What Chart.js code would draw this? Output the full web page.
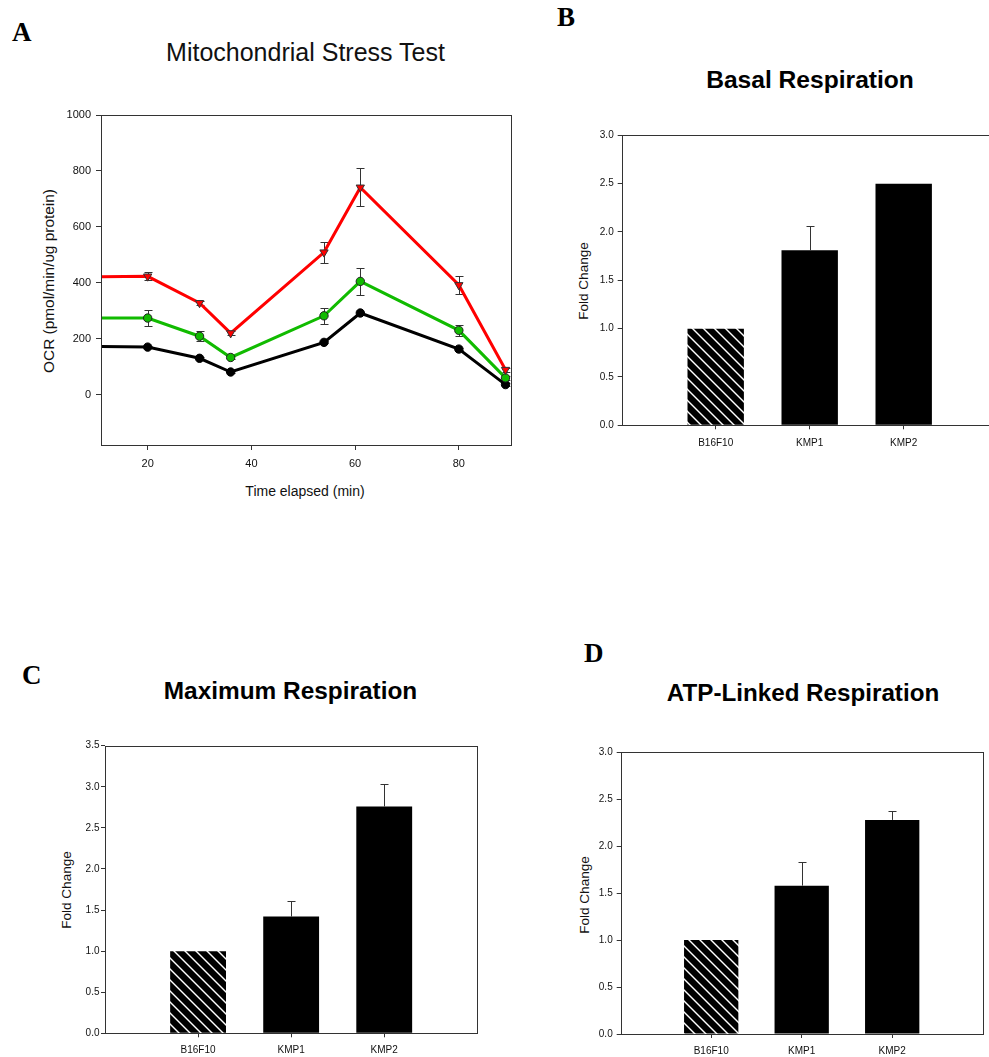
<!DOCTYPE html>
<html>
<head>
<meta charset="utf-8">
<script src="https://cdn.jsdelivr.net/npm/chart.js@4.4.1/dist/chart.umd.min.js"></script>
<style>
  html, body { margin: 0; padding: 0; background: #fff; }
  body { width: 989px; height: 1057px; overflow: hidden; position: relative; }
  canvas { position: absolute; }
  .txt { position: absolute; white-space: nowrap; color: #111; font-family: "Liberation Sans", Arial, sans-serif; }
  .letter { font-family: "Liberation Serif", "Times New Roman", serif; font-weight: bold; font-size: 27px; line-height: 27px; color: #000; }
  .ctr { transform: translateX(-50%); }
  .rot { transform: translate(-50%, -50%) rotate(-90deg); }
</style>
</head>
<body>
  <div class="txt letter" style="left:12px; top:19px;">A</div>
  <div class="txt letter" style="left:557px; top:4px;">B</div>
  <div class="txt letter" style="left:22px; top:662px;">C</div>
  <div class="txt letter" style="left:584px; top:640px;">D</div>

  <div class="txt ctr" style="left:305.5px; top:40px; font-size:25px; line-height:25px;">Mitochondrial Stress Test</div>
  <div class="txt ctr" style="left:810px; top:67.5px; font-size:24.6px; line-height:24.6px; font-weight:bold; color:#000;">Basal Respiration</div>
  <div class="txt ctr" style="left:290.5px; top:678.6px; font-size:24.4px; line-height:24.4px; font-weight:bold; color:#000;">Maximum Respiration</div>
  <div class="txt ctr" style="left:803px; top:681.2px; font-size:24.2px; line-height:24.2px; font-weight:bold; color:#000;">ATP-Linked Respiration</div>

  <div class="txt ctr" style="left:305px; top:484px; font-size:14px; line-height:14px;">Time elapsed (min)</div>
  <div class="txt rot" style="left:49px; top:281px; font-size:14px; line-height:14px; transform: translate(-50%, -50%) rotate(-90deg) scaleX(1.1);">OCR (pmol/min/υg protein)</div>
  <div class="txt rot" style="left:583.5px; top:281px; font-size:12px; line-height:12px; transform: translate(-50%, -50%) rotate(-90deg) scaleX(1.13);">Fold Change</div>
  <div class="txt rot" style="left:66.5px; top:890px; font-size:12px; line-height:12px; transform: translate(-50%, -50%) rotate(-90deg) scaleX(1.13);">Fold Change</div>
  <div class="txt rot" style="left:584.5px; top:895px; font-size:12px; line-height:12px; transform: translate(-50%, -50%) rotate(-90deg) scaleX(1.13);">Fold Change</div>

  <canvas id="chartA" width="530" height="420" style="left:0px; top:100px;"></canvas>
  <canvas id="chartB" width="460" height="360" style="left:540px; top:110px;"></canvas>
  <canvas id="chartC" width="460" height="327" style="left:30px; top:730px;"></canvas>
  <canvas id="chartD" width="450" height="322" style="left:550px; top:735px;"></canvas>

<script>
// ---- Mitochondrial stress test: OCR over time (mean ± error) ----
const ocrTimes = [10, 20, 30, 36, 54, 61, 80, 89];
const ocrKMP2  = [421, 423, 328, 220, 509, 741, 392, 89];
const errKMP2  = [12, 14, 7, 6, 38, 68, 33, 8];
const ocrKMP1  = [274, 274, 209, 133, 282, 405, 230, 60];
const errKMP1  = [25, 29, 18, 7, 29, 47, 20, 7];
const ocrB16F10 = [172, 170, 130, 81, 187, 292, 163, 36];
const errB16F10 = [4, 4, 4, 4, 4, 4, 4, 4];
const timeTicks = [20, 40, 60, 80];
const ocrTicks = [0, 200, 400, 600, 800, 1000];

// ---- Fold change bar panels ----
const categories = ['B16F10', 'KMP1', 'KMP2'];
const basalFold = [1.0, 1.81, 2.5];
const basalErr  = [0, 0.25, 0];
const maximalFold = [1.0, 1.42, 2.76];
const maximalErr  = [0, 0.19, 0.27];
const atpFold = [1.0, 1.58, 2.28];
const atpErr  = [0, 0.25, 0.10];

Chart.defaults.font.family = '"Liberation Sans", Arial, sans-serif';
Chart.defaults.color = '#111';
Chart.defaults.animation = false;

const AXIS = '#333';

// Box around the plotting area
const framePlugin = {
  id: 'frame',
  afterDraw(chart) {
    const { left, top, right, bottom } = chart.chartArea;
    const ctx = chart.ctx;
    ctx.save();
    ctx.strokeStyle = AXIS;
    ctx.lineWidth = 1;
    const l = Math.round(left) + 0.5, t = Math.round(top) + 0.5;
    const r = Math.round(right) + 0.5, b = Math.round(bottom) + 0.5;
    ctx.strokeRect(l, t, r - l, b - t);
    ctx.restore();
  }
};

// Error bars taken from each dataset's "errors" array
function drawErrorBars(chart, upOnly) {
  const ctx = chart.ctx;
  const yScale = chart.scales.y;
  const area = chart.chartArea;
  ctx.save();
  ctx.beginPath();
  ctx.rect(area.left, area.top, area.right - area.left, area.bottom - area.top);
  ctx.clip();
  ctx.strokeStyle = '#333';
  ctx.lineWidth = 1;
  chart.data.datasets.forEach((ds, di) => {
    if (!ds.errors) return;
    const meta = chart.getDatasetMeta(di);
    meta.data.forEach((el, i) => {
      const err = ds.errors[i];
      if (!err) return;
      const v = ds.data[i].y;
      const x = Math.round(el.x) + 0.5;
      const yTop = Math.round(yScale.getPixelForValue(v + err)) + 0.5;
      const yBot = upOnly ? yScale.getPixelForValue(v) : Math.round(yScale.getPixelForValue(v - err)) + 0.5;
      const cap = 4;
      ctx.beginPath();
      ctx.moveTo(x, yBot);
      ctx.lineTo(x, yTop);
      ctx.moveTo(x - cap, yTop);
      ctx.lineTo(x + cap, yTop);
      if (!upOnly) {
        ctx.moveTo(x - cap, yBot);
        ctx.lineTo(x + cap, yBot);
      }
      ctx.stroke();
    });
  });
  ctx.restore();
}

const lineErrorPlugin = {
  id: 'lineErrors',
  beforeDatasetsDraw(chart) { drawErrorBars(chart, false); }
};
const barErrorPlugin = {
  id: 'barErrors',
  afterDatasetsDraw(chart) { drawErrorBars(chart, true); }
};

function series(ys) {
  return ocrTimes.map((t, i) => ({ x: t, y: ys[i] }));
}

// Panel A
new Chart(document.getElementById('chartA'), {
  type: 'line',
  data: {
    datasets: [
      {
        label: 'KMP2', data: series(ocrKMP2), errors: errKMP2,
        borderColor: '#ff0000', borderWidth: 3, tension: 0,
        pointStyle: 'triangle', rotation: 180, pointRadius: 4.8,
        pointBackgroundColor: '#ff0000', pointBorderColor: '#333', pointBorderWidth: 1,
        clip: 0
      },
      {
        label: 'KMP1', data: series(ocrKMP1), errors: errKMP1,
        borderColor: '#11bb00', borderWidth: 3, tension: 0,
        pointStyle: 'circle', pointRadius: 4.2,
        pointBackgroundColor: '#11bb00', pointBorderColor: '#222', pointBorderWidth: 1,
        clip: 0
      },
      {
        label: 'B16F10', data: series(ocrB16F10), errors: errB16F10,
        borderColor: '#000', borderWidth: 3, tension: 0,
        pointStyle: 'circle', pointRadius: 4.2,
        pointBackgroundColor: '#000', pointBorderColor: '#000', pointBorderWidth: 1,
        clip: 0
      }
    ]
  },
  options: {
    responsive: false,
    events: [],
    layout: { padding: { top: 15, right: 19.3, left: 0, bottom: 0 } },
    plugins: { legend: { display: false }, tooltip: { enabled: false } },
    scales: {
      x: {
        type: 'linear', min: 11, max: 90,
        afterBuildTicks: s => { s.ticks = timeTicks.map(v => ({ value: v })); },
        afterFit: s => { s.height = 75; },
        border: { display: false },
        grid: { drawOnChartArea: false, drawTicks: true, tickLength: 5, color: AXIS },
        ticks: { font: { size: 11 }, color: '#111', padding: 7, maxRotation: 0, callback: v => String(v) }
      },
      y: {
        type: 'linear', min: -180, max: 1000,
        afterBuildTicks: s => { s.ticks = ocrTicks.map(v => ({ value: v })); },
        afterFit: s => { s.width = 101; },
        border: { display: false },
        grid: { drawOnChartArea: false, drawTicks: true, tickLength: 5, color: AXIS },
        ticks: { font: { size: 11 }, color: '#111', padding: 5, callback: v => String(v) }
      }
    }
  },
  plugins: [lineErrorPlugin, framePlugin]
});

// Diagonal hatch fill for the reference cell line
function hatchPattern() {
  const s = 11;
  const c = document.createElement('canvas');
  c.width = s; c.height = s;
  const g = c.getContext('2d');
  g.fillStyle = '#000';
  g.fillRect(0, 0, s, s);
  g.strokeStyle = '#fff';
  g.lineWidth = 1.4;
  for (const o of [-s, 0, s]) {
    g.beginPath();
    g.moveTo(o - 1, -1);
    g.lineTo(o + s + 1, s + 1);
    g.stroke();
  }
  return g.createPattern(c, 'repeat');
}

function barChart(id, values, errors, yMax, geom) {
  return new Chart(document.getElementById(id), {
    type: 'bar',
    data: {
      datasets: [{
        data: categories.map((c, i) => ({ x: i, y: values[i] })),
        errors: errors,
        backgroundColor: [hatchPattern(), '#000', '#000'],
        borderWidth: 0,
        barPercentage: 0.6,
        categoryPercentage: 1.0
      }]
    },
    options: {
      responsive: false,
      events: [],
      layout: { padding: { top: geom.top, right: geom.right, left: 0, bottom: 0 } },
      plugins: { legend: { display: false }, tooltip: { enabled: false } },
      scales: {
        x: {
          type: 'linear', min: -1, max: 3, offset: false,
          afterBuildTicks: s => { s.ticks = categories.map((c, i) => ({ value: i })); },
          afterFit: s => { s.height = geom.xh; },
          border: { display: false },
          grid: { offset: false, drawOnChartArea: false, drawTicks: true, tickLength: 4, color: AXIS },
          ticks: { font: { size: 10 }, color: '#111', padding: geom.xpad, maxRotation: 0, autoSkip: false, callback: v => categories[v] }
        },
        y: {
          type: 'linear', min: 0, max: yMax,
          ticks: { stepSize: 0.5, font: { size: 10 }, color: '#111', padding: geom.ypad, callback: v => v.toFixed(1) },
          afterFit: s => { s.width = geom.yw; },
          border: { display: false },
          grid: { drawOnChartArea: false, drawTicks: true, tickLength: 4, color: AXIS }
        }
      }
    },
    plugins: [barErrorPlugin, framePlugin]
  });
}

barChart('chartB', basalFold, basalErr, 3.0, { top: 25.3, right: 2.3, xh: 44.7, yw: 81.7, ypad: 4, xpad: 8 });
barChart('chartC', maximalFold, maximalErr, 3.5, { top: 15.7, right: 12.7, xh: 23.7, yw: 75, ypad: 1.5, xpad: 6.5 });
barChart('chartD', atpFold, atpErr, 3.0, { top: 17.3, right: 17.3, xh: 23, yw: 70.7, ypad: 4, xpad: 7 });
</script>
</body>
</html>
